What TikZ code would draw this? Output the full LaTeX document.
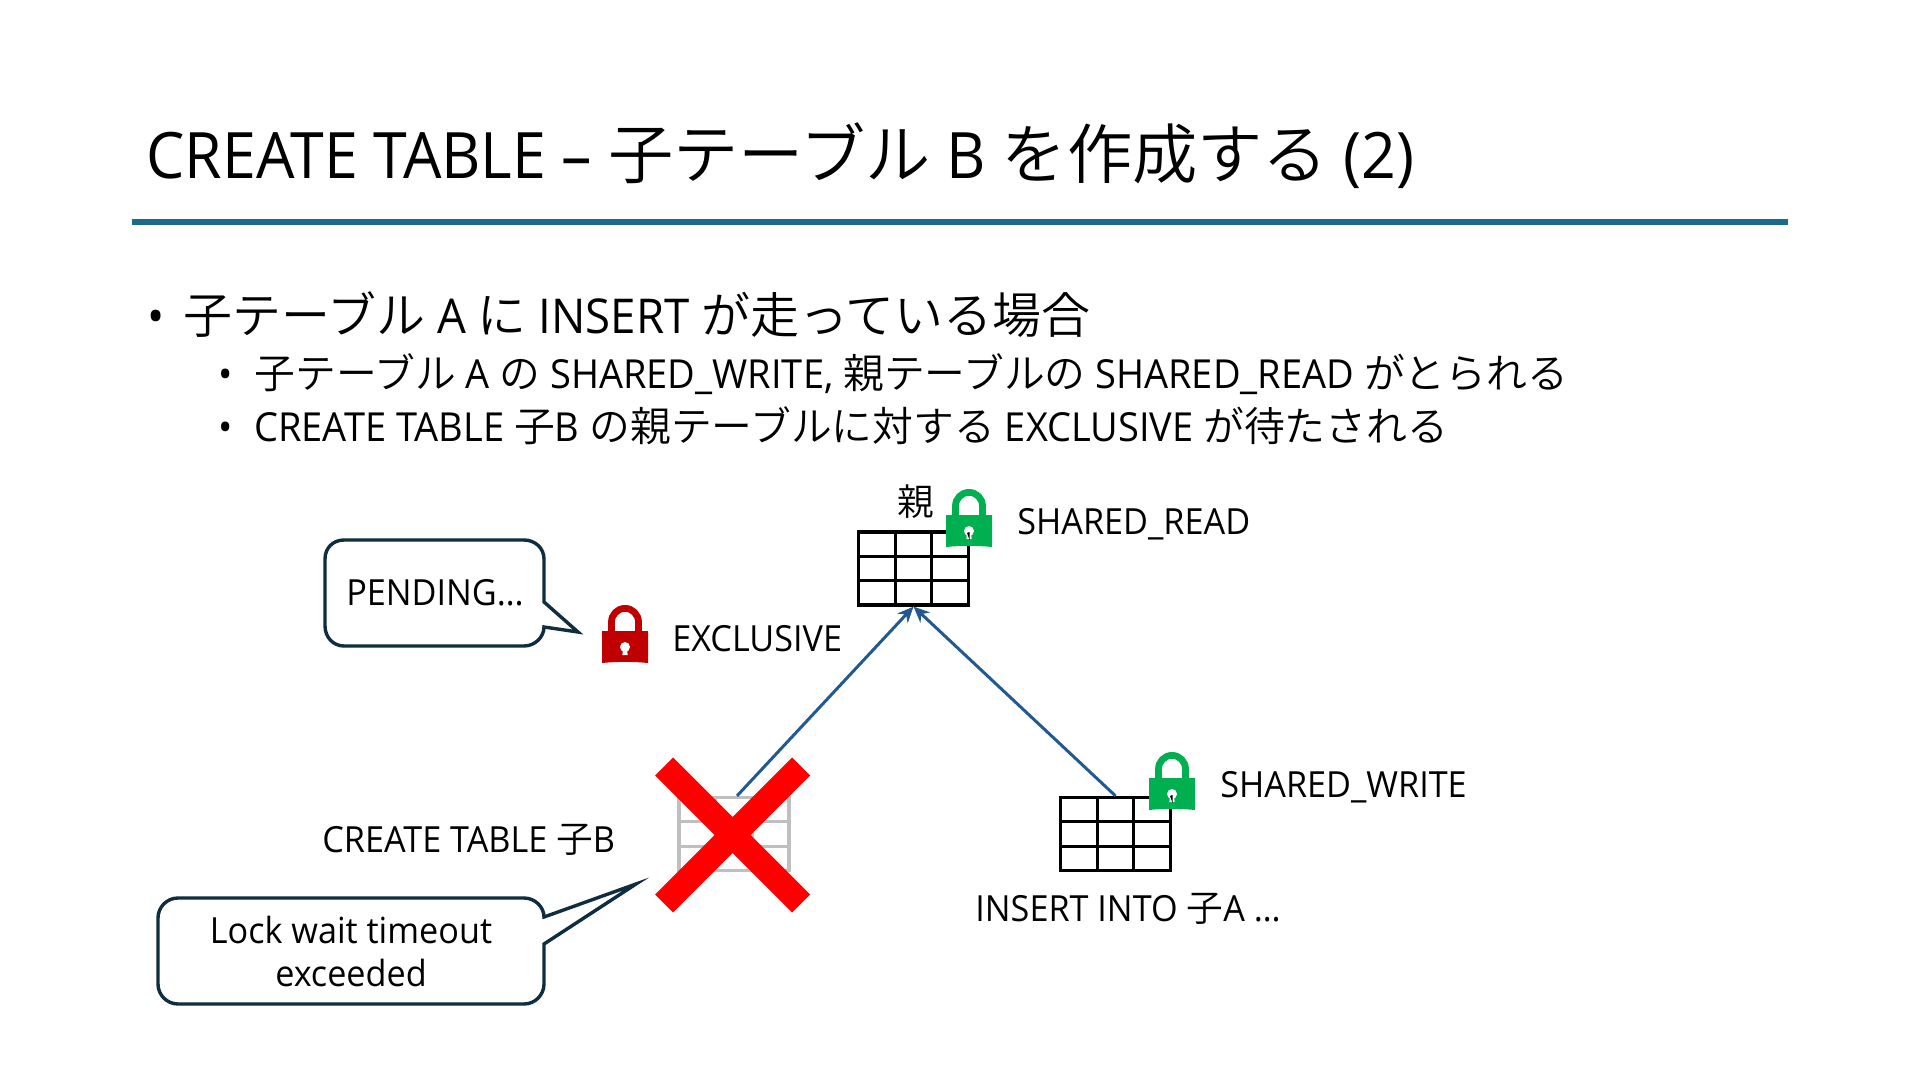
\documentclass[tikz,border=0pt]{standalone}
\usepackage{fontspec}
\setmainfont{Open Sans}[FakeStretch=0.95]
\newfontfamily\cjk{Noto Sans CJK JP DemiLight}[Scale=1.02]
\newcommand{\J}[1]{{\cjk #1}}
\usetikzlibrary{calc,arrows.meta}
\definecolor{rulecol}{HTML}{1C6A8C}
\definecolor{linkcol}{HTML}{22598F}
\definecolor{callcol}{HTML}{0F2D3F}
\definecolor{lockgreen}{HTML}{00B050}
\definecolor{lockred}{HTML}{C00000}
\definecolor{crossred}{HTML}{FF0000}
\definecolor{gridgray}{HTML}{BFBFBF}
\tikzset{
  x=0.5pt,y=-0.5pt,
  txt/.style={inner sep=0pt,text=black,font=\fontsize{18}{22}\selectfont},
  titletxt/.style={inner sep=0pt,anchor=base west,font=\fontsize{32}{38}\selectfont},
  lvlone/.style={inner sep=0pt,anchor=base west,font=\fontsize{24}{28}\selectfont},
  lvltwo/.style={inner sep=0pt,anchor=base west,font=\fontsize{20}{24}\selectfont},
  tablebox/.style={draw=#1,line width=1.6pt,minimum width=55pt,minimum height=36.5pt,inner sep=0pt,
    path picture={
      \draw[#1,line width=1.6pt]
      ($(path picture bounding box.north west)!.333!(path picture bounding box.north east)$) --
      ($(path picture bounding box.south west)!.333!(path picture bounding box.south east)$)
      ($(path picture bounding box.north west)!.667!(path picture bounding box.north east)$) --
      ($(path picture bounding box.south west)!.667!(path picture bounding box.south east)$)
      ($(path picture bounding box.north west)!.333!(path picture bounding box.south west)$) --
      ($(path picture bounding box.north east)!.333!(path picture bounding box.south east)$)
      ($(path picture bounding box.north west)!.667!(path picture bounding box.south west)$) --
      ($(path picture bounding box.north east)!.667!(path picture bounding box.south east)$);
    }},
  link/.style={draw=linkcol,line width=1.5pt,-{Stealth[length=8pt,width=7pt]}},
  callout/.style={draw=callcol,line width=1.7pt,fill=white,line join=miter},
  pics/lock/.style={code={
    \draw[#1,line width=3.4pt] (-13.5,-20) -- (-13.5,-35) .. controls (-13.5,-42.5) and (-7.5,-48.6) .. (0,-48.6) .. controls (7.5,-48.6) and (13.5,-42.5) .. (13.5,-35) -- (13.5,-20);
    \fill[#1] (-23,6) -- (-23,-26) -- (23,-26) -- (23,6) .. controls (8,4.5) and (-8,4.5) .. (-23,6) -- cycle;
    \fill[white] (0,-10) circle (5);
    \fill[white] (-2,-10) -- (2,-10) -- (2.6,-2) -- (-2.6,-2) -- cycle;
  }},
  pics/keywedge/.style={code={
    \fill[black] (-2,-8) -- (0.6,-9) -- (0.6,-1) -- cycle;
  }}
}
\begin{document}
\begin{tikzpicture}
\useasboundingbox (0,0) rectangle (1920,1080);
\fill[white] (0,0) rectangle (1920,1080);
\node[titletxt] (title) at (146,179) {CREATE TABLE – \J{子テーブル} B \J{を作成する} (2)};
\draw[rulecol,line width=3pt] (132,222) -- (1788,222);
\node[lvlone] (bul1) at (147,334) {•};
\node[lvlone] (t1) at (183,334) {\J{子テーブル} A \J{に} INSERT \J{が走っている場合}};
\node[lvltwo] (bul2) at (218,388) {•};
\node[lvltwo] (t2) at (254,388) {\J{子テーブル} A \J{の} SHARED\_WRITE, \J{親テーブルの} SHARED\_READ \J{がとられる}};
\node[lvltwo] (bul3) at (218,441) {•};
\node[lvltwo] (t3) at (254,441) {CREATE TABLE \J{子}B \J{の親テーブルに対する} EXCLUSIVE \J{が待たされる}};

\node[tablebox=black] (tblP) at (913.5,568.5) {};
\node[tablebox=black] (tblA) at (1115.5,834) {};
\node[tablebox=gridgray] (tblB) at (734,834) {};
\draw[link] ($(tblB.north)+(3,0)$) -- (tblP.south);
\draw[link] (tblA.north) -- (tblP.south);

\fill[crossred] (732.5,817) -- (792,757.5) -- (810,775.5) -- (750.5,835) -- (810,894.5) -- (792,912.5) -- (732.5,853) -- (673,912.5) -- (655,894.5) -- (714.5,835) -- (655,775.5) -- (673,757.5) -- cycle;

\pic at (969,541) {lock=lockgreen};
\pic at (969,541) {keywedge};
\pic at (625,657) {lock=lockred};
\pic at (1172,804) {lock=lockgreen};
\pic at (1172,804) {keywedge};

\node[txt] (lblP) at (916,502) {\J{親}};
\node[txt,anchor=west] (lblSR) at (1017,524) {SHARED\_READ};
\node[txt,anchor=west] (lblEX) at (672,639) {EXCLUSIVE};
\node[txt,anchor=west] (lblSW) at (1220,787) {SHARED\_WRITE};
\node[txt,anchor=west] (lblCT) at (322,840) {CREATE TABLE \J{子}B};
\node[txt,anchor=west] (lblIN) at (975,909) {INSERT INTO \J{子}A …};

\draw[callout] (344,540) -- (524,540) .. controls (535,540) and (544,548) .. (544,559) -- (544,602) -- (578,632) -- (544,627) .. controls (544,637) and (535,646) .. (524,646) -- (344,646) .. controls (333,646) and (325,637) .. (325,626) -- (325,559) .. controls (325,548) and (333,540) .. (344,540) -- cycle;
\node[txt] (pend) at (435,593) {PENDING…};

\draw[callout] (178,898) -- (524,898) .. controls (535,898) and (544,907) .. (544,917) -- (636,884) -- (544,944) -- (544,984) .. controls (544,995) and (535,1004) .. (524,1004) -- (178,1004) .. controls (167,1004) and (158,995) .. (158,984) -- (158,918) .. controls (158,907) and (167,898) .. (178,898) -- cycle;
\node[txt] (lw1) at (351,930) {Lock wait timeout};
\node[txt] (lw2) at (351,973) {exceeded};
\end{tikzpicture}
\end{document}
